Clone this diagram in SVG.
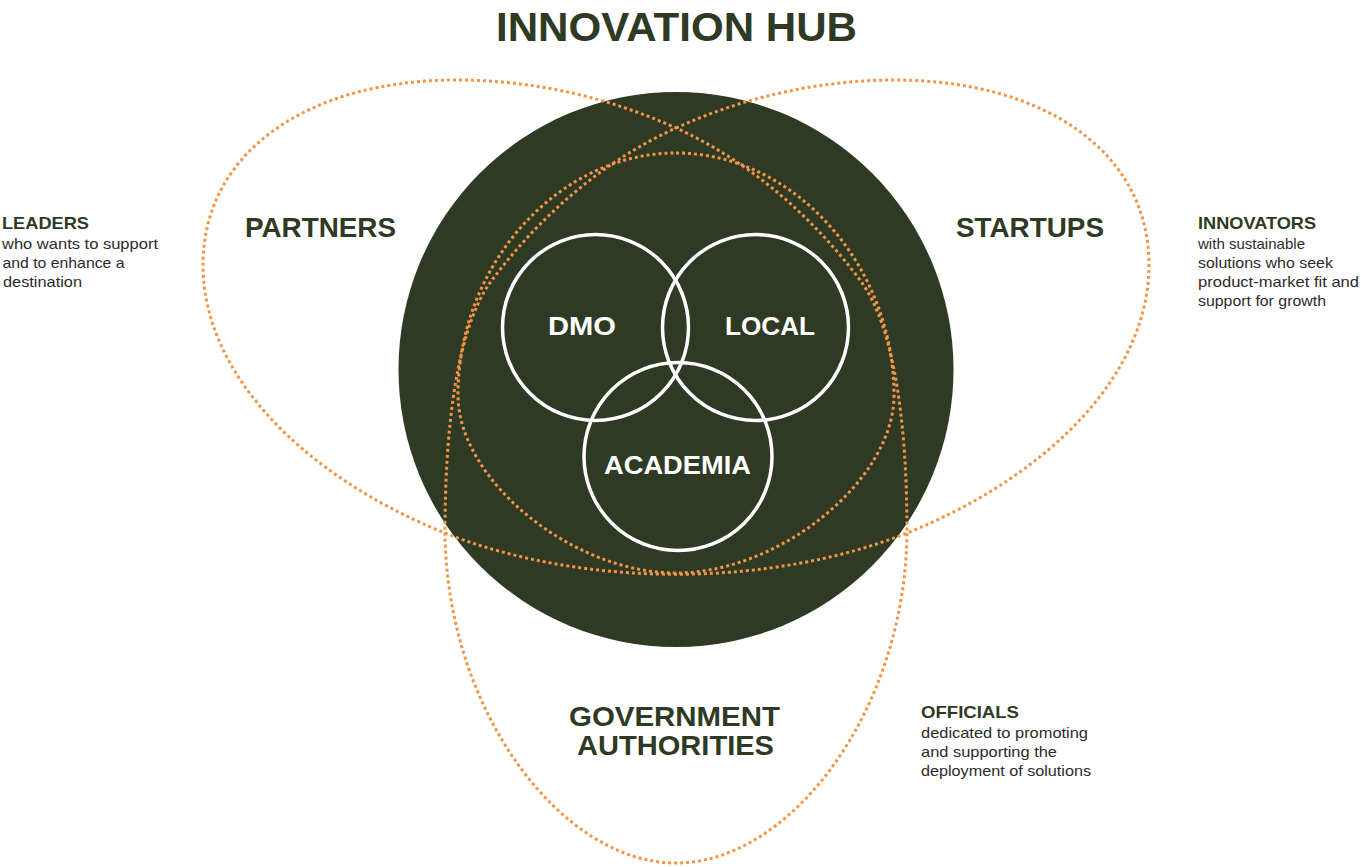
<svg xmlns="http://www.w3.org/2000/svg" width="1361" height="867" viewBox="0 0 1361 867">
  <style>
    .hub { fill: #2e3a23; }
    .dots { fill: none; stroke: #f39447; stroke-width: 3; stroke-dasharray: 3 3; }
    .ring { fill: none; stroke: #ffffff; stroke-width: 3.5; }
    .title { font-family: "Liberation Sans", Arial, sans-serif; font-weight: 700; fill: #2e3a23; }
    .label { font-family: "Liberation Sans", Arial, sans-serif; font-weight: 700; fill: #2e3a23; font-size: 28px; text-anchor: middle; }
    .inner { font-family: "Liberation Sans", Arial, sans-serif; font-weight: 700; fill: #ffffff; font-size: 26.5px; text-anchor: middle; }
    .head { font-family: "Liberation Sans", Arial, sans-serif; font-weight: 700; fill: #2e3a23; font-size: 17px; }
    .body { font-family: "Liberation Sans", Arial, sans-serif; fill: #2b2b2b; font-size: 15px; }
  </style>

  <rect width="1361" height="867" fill="#ffffff"/>

  <g id="title">
    <text class="title" x="676.5" y="41" font-size="41.5" text-anchor="middle" textLength="361" lengthAdjust="spacingAndGlyphs">INNOVATION HUB</text>
  </g>

  <g id="hub">
    <circle class="hub" cx="676" cy="369.5" r="277.5"/>
  </g>

  <!-- interlaced three-lobed loop and the ring woven through it -->
  <g id="loops">
    <path class="dots" d="M 676,128
      C 744,97 820,80 895,80
      C 1044,80 1149,152 1149,265
      C 1149,375 1047,477 907,533
      C 769,588 583,588 445,533
      C 305,477 203,375 203,265
      C 203,152 308,80 457,80
      C 532,80 608,97 676,128
      C 749,161 812,216 860,280
      C 902,336 907,463 907,533
      C 905,712 790,863 676,863
      C 562,863 447,712 445,533
      C 445,463 450,336 492,280
      C 540,216 603,161 676,128 Z"/>
    <path class="dots" d="M 676,153
      C 794,153 894,265 894,395
      C 894,480 780,573 676,573
      C 572,573 458,480 458,395
      C 458,265 558,153 676,153 Z"/>
  </g>

  <g id="dmo">
    <circle class="ring" cx="595.5" cy="327.5" r="93"/>
    <text class="inner" x="582" y="335" textLength="68" lengthAdjust="spacingAndGlyphs">DMO</text>
  </g>
  <g id="local">
    <circle class="ring" cx="755.5" cy="327.5" r="93"/>
    <text class="inner" x="770" y="335" textLength="90" lengthAdjust="spacingAndGlyphs">LOCAL</text>
  </g>
  <g id="academia">
    <circle class="ring" cx="678" cy="456.5" r="94"/>
    <text class="inner" x="677.5" y="474" textLength="147" lengthAdjust="spacingAndGlyphs">ACADEMIA</text>
  </g>

  <g id="partners">
    <text class="label" x="320.5" y="237" textLength="151" lengthAdjust="spacingAndGlyphs">PARTNERS</text>
  </g>
  <g id="startups">
    <text class="label" x="1030" y="237" textLength="148" lengthAdjust="spacingAndGlyphs">STARTUPS</text>
  </g>
  <g id="government">
    <text class="label" x="674.5" y="726" textLength="211" lengthAdjust="spacingAndGlyphs">GOVERNMENT</text>
    <text class="label" x="675.5" y="755" textLength="197" lengthAdjust="spacingAndGlyphs">AUTHORITIES</text>
  </g>

  <g id="leaders">
    <text class="head" x="2" y="229" textLength="87" lengthAdjust="spacingAndGlyphs">LEADERS</text>
    <text class="body" x="2" y="249" textLength="156" lengthAdjust="spacingAndGlyphs">who wants to support</text>
    <text class="body" x="2.5" y="268" textLength="122" lengthAdjust="spacingAndGlyphs">and to enhance a</text>
    <text class="body" x="3" y="287" textLength="79" lengthAdjust="spacingAndGlyphs">destination</text>
  </g>

  <g id="innovators">
    <text class="head" x="1198" y="229" textLength="118" lengthAdjust="spacingAndGlyphs">INNOVATORS</text>
    <text class="body" x="1198" y="249" textLength="107" lengthAdjust="spacingAndGlyphs">with sustainable</text>
    <text class="body" x="1198" y="268" textLength="135" lengthAdjust="spacingAndGlyphs">solutions who seek</text>
    <text class="body" x="1198" y="287" textLength="161" lengthAdjust="spacingAndGlyphs">product-market fit and</text>
    <text class="body" x="1198" y="306" textLength="128" lengthAdjust="spacingAndGlyphs">support for growth</text>
  </g>

  <g id="officials">
    <text class="head" x="921" y="718" textLength="98" lengthAdjust="spacingAndGlyphs">OFFICIALS</text>
    <text class="body" x="921" y="738" textLength="167" lengthAdjust="spacingAndGlyphs">dedicated to promoting</text>
    <text class="body" x="921" y="757" textLength="136" lengthAdjust="spacingAndGlyphs">and supporting the</text>
    <text class="body" x="921" y="776" textLength="170" lengthAdjust="spacingAndGlyphs">deployment of solutions</text>
  </g>
</svg>
